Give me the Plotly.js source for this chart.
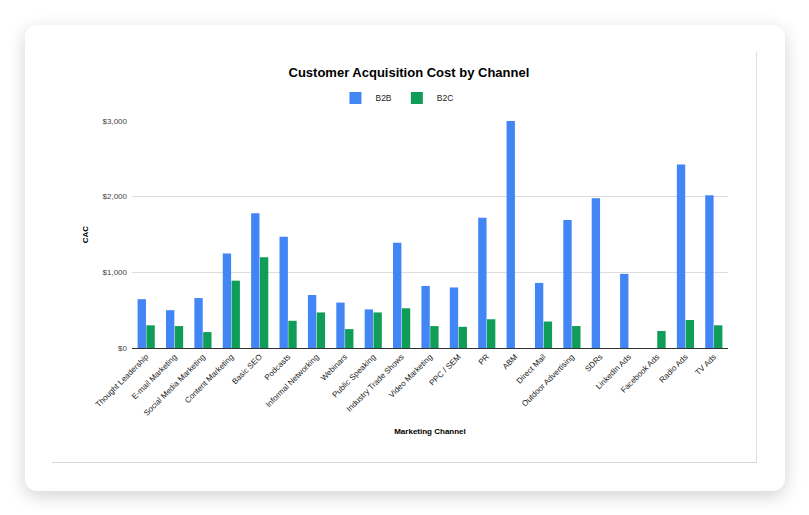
<!DOCTYPE html>
<html>
<head>
<meta charset="utf-8">
<script src="https://cdn.plot.ly/plotly-3.0.1.min.js"></script>
<style>
  html, body { margin: 0; padding: 0; background: #ffffff; width: 809px; height: 515px; overflow: hidden; }
  #card { position: absolute; left: 25px; top: 25px; width: 760px; height: 466px; background: #fff;
          border-radius: 12px; box-shadow: 0 5px 18px rgba(0,0,0,0.18); }
  #chartbox { position: absolute; left: 52px; top: 52px; width: 704px; height: 410px;
              border-right: 1px solid #dedede; border-bottom: 1px solid #d6d6d6; background: #fff; }
  #chart { width: 704px; height: 410px; }
</style>
</head>
<body>
<div id="card"></div>
<div id="chartbox"><div id="chart"></div></div>
<script>
const channels = ["Thought Leadership", "E-mail Marketing", "Social Media Marketing", "Content Marketing",
  "Basic SEO", "Podcasts", "Informal Networking", "Webinars", "Public Speaking", "Industry Trade Shows",
  "Video Marketing", "PPC / SEM", "PR", "ABM", "Direct Mail", "Outdoor Advertising", "SDRs",
  "LinkedIn Ads", "Facebook Ads", "Radio Ads", "TV Ads"];
const b2b = [645, 500, 660, 1250, 1780, 1470, 700, 600, 510, 1390, 820, 800, 1720, 3000, 860, 1690, 1980, 980, null, 2425, 2020];
const b2c = [300, 290, 210, 890, 1200, 360, 470, 250, 470, 525, 290, 280, 380, null, 350, 290, null, null, 225, 370, 300];
const yTicks = [0, 1000, 2000, 3000];
const yTickText = ["$0", "$1,000", "$2,000", "$3,000"];

const font = "Liberation Sans, Arial, sans-serif";
const traces = [
  { type: "bar", name: "B2B", x: channels, y: b2b, marker: { color: "#4285F4" } },
  { type: "bar", name: "B2C", x: channels, y: b2c, marker: { color: "#0F9D58" } }
];
const layout = {
  width: 704, height: 410,
  margin: { l: 80, r: 28, t: 69, b: 114 },
  paper_bgcolor: "#ffffff", plot_bgcolor: "#ffffff",
  font: { family: font, size: 8, color: "#222" },
  title: { text: "<b>Customer Acquisition Cost by Channel</b>", font: { family: font, size: 13, color: "#000" },
           x: 0.507, xref: "container", y: 0.95, yref: "container", yanchor: "middle" },
  showlegend: true,
  legend: { orientation: "h", x: 0.49, xref: "container", xanchor: "center", y: 0.888, yref: "container", yanchor: "middle",
            font: { family: font, size: 8.5, color: "#222" }, itemwidth: 30 },
  barmode: "group", bargap: 0.38, bargroupgap: 0.05,
  xaxis: {
    type: "category", tickangle: -45, tickfont: { family: font, size: 8, color: "#222" },
    ticks: "", showgrid: false, showline: true, linecolor: "#333", linewidth: 1,
    title: { text: "<b>Marketing Channel</b>", font: { family: font, size: 8, color: "#000" }, standoff: 11 },
    automargin: false
  },
  yaxis: {
    range: [0, 3000], tickvals: yTicks, ticktext: yTickText,
    tickfont: { family: font, size: 8, color: "#444" }, ticks: "",
    showgrid: true, gridcolor: "#dcdcdc", gridwidth: 1,
    zeroline: true, zerolinecolor: "#333", zerolinewidth: 1,
    title: { text: "<b>CAC</b>", font: { family: font, size: 8, color: "#000" }, standoff: 12 },
    automargin: false, ticklabelstandoff: 4
  }
};
Plotly.newPlot("chart", traces, layout, { staticPlot: true, displayModeBar: false });
</script>
</body>
</html>
